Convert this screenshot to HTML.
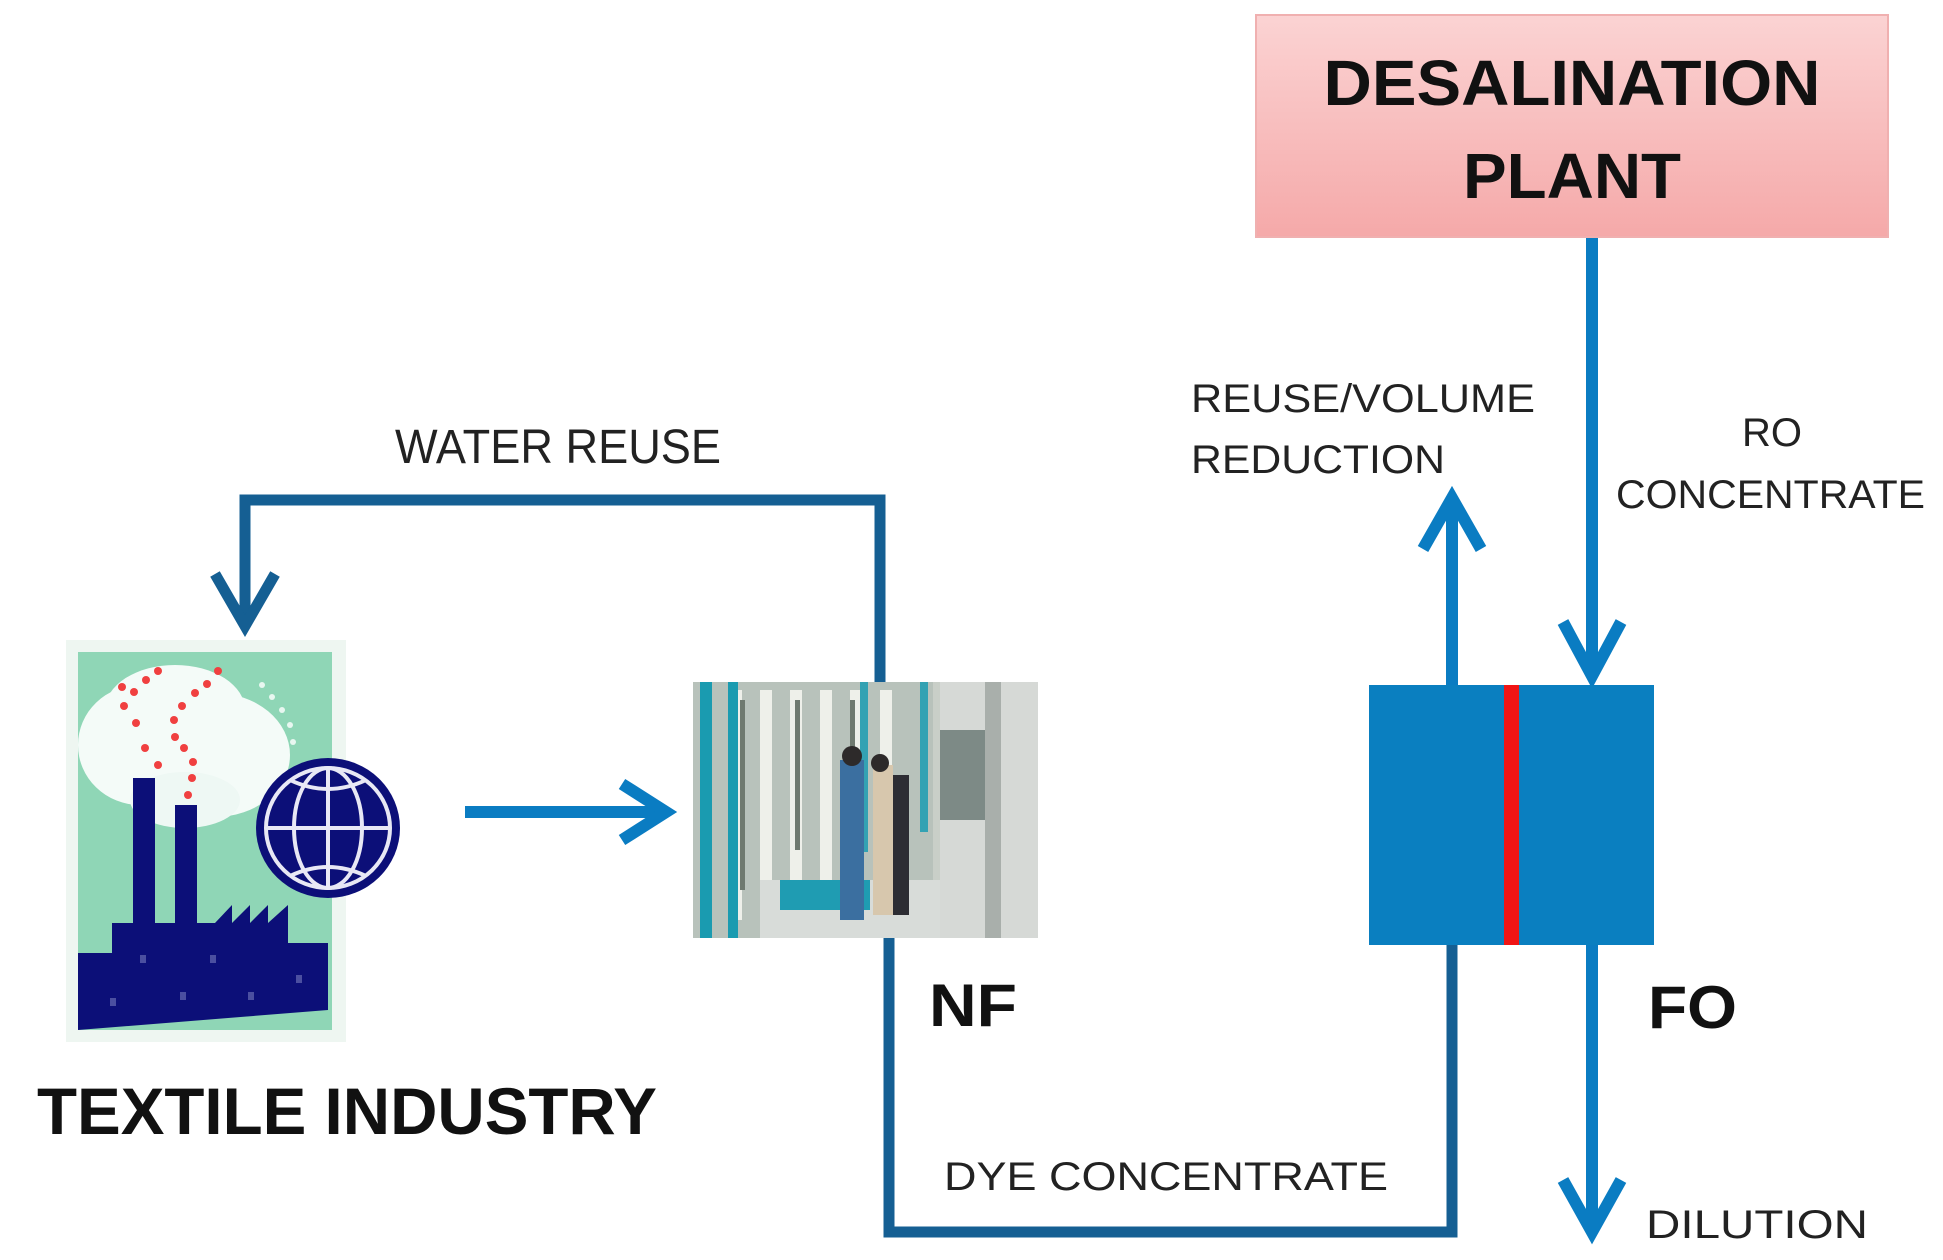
<!DOCTYPE html>
<html><head><meta charset="utf-8"><style>
html,body{margin:0;padding:0;background:#fff;}
svg{display:block;}
text{font-family:"Liberation Sans",sans-serif;}
</style></head><body>
<svg width="1943" height="1260" viewBox="0 0 1943 1260" xmlns="http://www.w3.org/2000/svg">
<defs>
<linearGradient id="pink" x1="0" y1="0" x2="0" y2="1">
<stop offset="0" stop-color="#fbd3d3"/><stop offset="1" stop-color="#f5a9a9"/>
</linearGradient>
</defs>
<rect x="1256" y="15" width="632" height="222" fill="url(#pink)" stroke="#f0b0b0" stroke-width="2"/>
<text x="1572" y="105" font-size="64" font-weight="bold" text-anchor="middle" fill="#111" textLength="497" lengthAdjust="spacingAndGlyphs">DESALINATION</text>
<text x="1572" y="198" font-size="64" font-weight="bold" text-anchor="middle" fill="#111" textLength="218" lengthAdjust="spacingAndGlyphs">PLANT</text>

<g stroke="#0a7cc2" stroke-width="12" fill="none" stroke-linecap="butt">
<line x1="1592" y1="238" x2="1592" y2="676"/>
<polyline points="1563,622 1592,676 1621,622"/>
<line x1="1452" y1="685" x2="1452" y2="500"/>
<polyline points="1423,549 1452,498 1481,549"/>
<line x1="1592" y1="945" x2="1592" y2="1232"/>
<polyline points="1563,1180 1592,1232 1621,1180"/>
<line x1="465" y1="812" x2="664" y2="812"/>
<polyline points="622,784 666,812 622,840"/>
</g>

<rect x="1369" y="685" width="285" height="260" fill="#0a7fc0"/>
<rect x="1504" y="685" width="15" height="260" fill="#f01515"/>

<polyline points="889,938 889,1232 1452,1232 1452,945" fill="none" stroke="#155f93" stroke-width="11"/>
<g stroke="#155f93" stroke-width="11" fill="none">
<polyline points="880,682 880,500 245,500 245,624"/>
<polyline points="215,574 245,626 275,574"/>
</g>

<text x="395" y="463" font-size="48" fill="#222" textLength="326" lengthAdjust="spacingAndGlyphs">WATER REUSE</text>
<text x="1191" y="412" font-size="40" fill="#222" textLength="344" lengthAdjust="spacingAndGlyphs">REUSE/VOLUME</text>
<text x="1191" y="473" font-size="40" fill="#222" textLength="254" lengthAdjust="spacingAndGlyphs">REDUCTION</text>
<text x="1772" y="446" font-size="40" fill="#222" text-anchor="middle" textLength="60" lengthAdjust="spacingAndGlyphs">RO</text>
<text x="1616" y="508" font-size="40" fill="#222" textLength="309" lengthAdjust="spacingAndGlyphs">CONCENTRATE</text>
<text x="944" y="1190" font-size="40" fill="#222" textLength="444" lengthAdjust="spacingAndGlyphs">DYE CONCENTRATE</text>
<text x="1646" y="1238" font-size="40" fill="#222" textLength="222" lengthAdjust="spacingAndGlyphs">DILUTION</text>
<text x="929" y="1026" font-size="60" font-weight="bold" fill="#111" textLength="88" lengthAdjust="spacingAndGlyphs">NF</text>
<text x="1648" y="1028" font-size="60" font-weight="bold" fill="#111" textLength="89" lengthAdjust="spacingAndGlyphs">FO</text>
<text x="37" y="1134" font-size="66" font-weight="bold" fill="#111" textLength="620" lengthAdjust="spacingAndGlyphs">TEXTILE INDUSTRY</text>

<rect x="66" y="640" width="280" height="402" fill="#eef6f1"/>
<rect x="78" y="652" width="254" height="378" fill="#8fd6b6"/>
<ellipse cx="140" cy="745" rx="62" ry="60" fill="#f4fbf8"/>
<ellipse cx="215" cy="755" rx="75" ry="62" fill="#f4fbf8"/>
<ellipse cx="175" cy="710" rx="70" ry="45" fill="#f4fbf8"/>
<ellipse cx="185" cy="800" rx="55" ry="28" fill="#eef8f4"/>
<g fill="#f04040">
<circle cx="158" cy="765" r="4"/><circle cx="145" cy="748" r="4"/><circle cx="136" cy="723" r="4"/><circle cx="124" cy="706" r="4"/><circle cx="122" cy="687" r="4"/><circle cx="134" cy="692" r="4"/><circle cx="146" cy="680" r="4"/><circle cx="158" cy="671" r="4"/>
<circle cx="188" cy="795" r="4"/><circle cx="192" cy="778" r="4"/><circle cx="193" cy="762" r="4"/><circle cx="184" cy="748" r="4"/><circle cx="175" cy="737" r="4"/><circle cx="174" cy="720" r="4"/><circle cx="182" cy="706" r="4"/><circle cx="195" cy="693" r="4"/><circle cx="207" cy="684" r="4"/><circle cx="218" cy="671" r="4"/>
</g>
<g fill="#e8f7f0"><circle cx="262" cy="685" r="3"/><circle cx="272" cy="697" r="3"/><circle cx="282" cy="710" r="3"/><circle cx="290" cy="725" r="3"/><circle cx="293" cy="742" r="3"/></g>
<path d="M133,778 L155,778 L155,923 L175,923 L175,805 L197,805 L197,923 L215,923 L232,905 L232,923 L250,905 L250,923 L268,905 L268,923 L288,905 L288,943 L328,943 L328,1010 L78,1030 L78,953 L112,953 L112,923 L133,923 Z" fill="#0c0f78"/>
<g fill="#4b4fa0"><rect x="140" y="955" width="6" height="8"/><rect x="210" y="955" width="6" height="8"/><rect x="296" y="975" width="6" height="8"/><rect x="110" y="998" width="6" height="8"/><rect x="180" y="992" width="6" height="8"/><rect x="248" y="992" width="6" height="8"/></g>
<ellipse cx="328" cy="828" rx="72" ry="70" fill="#0c0f78"/>
<g stroke="#e8e8f5" stroke-width="4" fill="none">
<ellipse cx="328" cy="828" rx="62" ry="60"/>
<ellipse cx="328" cy="828" rx="34" ry="60"/>
<line x1="328" y1="768" x2="328" y2="888"/>
<line x1="266" y1="828" x2="390" y2="828"/>
<path d="M290,780 Q328,798 366,780"/>
<path d="M290,876 Q328,858 366,876"/>
</g>

<rect x="693" y="682" width="345" height="256" fill="#c9cfc8"/>
<rect x="693" y="682" width="240" height="256" fill="#b8c2bb"/>
<g fill="#eef0ea">
<rect x="730" y="690" width="12" height="230"/><rect x="760" y="690" width="12" height="230"/><rect x="790" y="690" width="12" height="200"/><rect x="820" y="690" width="12" height="200"/><rect x="850" y="690" width="12" height="200"/><rect x="880" y="690" width="12" height="170"/>
</g>
<g fill="#6f7a70"><rect x="740" y="700" width="5" height="190"/><rect x="795" y="700" width="5" height="150"/><rect x="850" y="700" width="5" height="150"/></g>
<rect x="700" y="682" width="12" height="256" fill="#1a9bb0"/>
<rect x="728" y="682" width="10" height="256" fill="#1a9bb0"/>
<rect x="860" y="682" width="8" height="170" fill="#33a2b3"/>
<rect x="920" y="682" width="8" height="150" fill="#33a2b3"/>
<rect x="940" y="682" width="98" height="256" fill="#d6d9d6"/>
<rect x="940" y="730" width="45" height="90" fill="#7d8a86"/>
<rect x="985" y="682" width="16" height="256" fill="#a9afab"/>
<rect x="760" y="880" width="180" height="58" fill="#d8dcd9"/>
<rect x="780" y="880" width="90" height="30" fill="#1f9cb2"/>
<rect x="840" y="760" width="24" height="160" fill="#3b6fa0"/>
<rect x="873" y="765" width="20" height="150" fill="#d7c7ad"/>
<rect x="893" y="775" width="16" height="140" fill="#2d2d33"/>
<circle cx="852" cy="756" r="10" fill="#2d2a2a"/><circle cx="880" cy="763" r="9" fill="#2d2a2a"/>
</svg>
</body></html>
